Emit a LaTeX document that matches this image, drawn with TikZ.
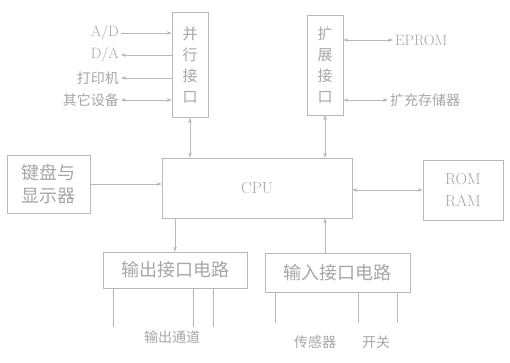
\documentclass[tikz,border=0pt]{standalone}
\usepackage{fontspec}
\newfontfamily\cjk{Noto Sans CJK SC}
\usetikzlibrary{arrows.meta, positioning}

\begin{document}
\begin{tikzpicture}[x=1pt, y=-1pt,
    blk/.style={rectangle, draw=black!28, line width=0.8pt, align=center, inner sep=0pt, text=black!35, font=\fontsize{18}{23}\selectfont\cjk},
    vblk/.style={blk, minimum width=36pt, font=\fontsize{15}{21}\selectfont\cjk},
    lbl/.style={text=black!35, inner sep=2pt, font=\fontsize{14}{16}\selectfont\cjk},
    arr/.style={-{Stealth[length=5pt]}, draw=black!28, line width=0.8pt},
    darr/.style={{Stealth[length=5pt]}-{Stealth[length=5pt]}, draw=black!28, line width=0.8pt},
    ln/.style={draw=black!28, line width=0.8pt}]
    \useasboundingbox (0,0) rectangle (510,362);

    \node[blk, minimum width=190pt, minimum height=60pt, font=\fontsize{16}{20}\selectfont\rmfamily] (cpu) at (257,188) {CPU};
    \node[vblk, minimum height=105pt] (io) at (190,65) {并\\行\\接\\口};
    \node[vblk, minimum height=100pt] (ext) at (325,65) {扩\\展\\接\\口};
    \node[blk, minimum width=83pt, minimum height=58pt] (key) at (48.5,184) {键盘与\\显示器};
    \node[blk, minimum width=80pt, minimum height=60pt, font=\fontsize{16}{22}\selectfont\rmfamily] (rom) at (463,190) {ROM\\RAM};
    \node[blk, minimum width=144pt, minimum height=36pt] (outc) at (175,270) {输出接口电路};
    \node[blk, minimum width=145pt, minimum height=39pt] (inc) at (337.5,272.5) {输入接口电路};

    % devices on the parallel port
    \node[lbl, anchor=east, font=\fontsize{15}{16}\selectfont\rmfamily] (ad) at (121,33) {A/D};
    \node[lbl, anchor=east, font=\fontsize{15}{16}\selectfont\rmfamily] (da) at (121,55) {D/A};
    \node[lbl, anchor=east] (prt) at (121,78) {打印机};
    \node[lbl, anchor=east] (oth) at (121,100) {其它设备};
    \draw[arr] (ad.east) -- (ad.east -| io.west);
    \draw[arr] (io.west |- da.east) -- (da.east);
    \draw[arr] (io.west |- prt.east) -- (prt.east);
    \draw[darr] (oth.east) -- (oth.east -| io.west);

    % memory on the expansion port
    \node[lbl, anchor=west, font=\fontsize{15}{16}\selectfont\rmfamily] (eprom) at (393,40) {EPROM};
    \node[lbl, anchor=west] (mem) at (388,100) {扩充存储器};
    \draw[darr] (eprom.west) -- (eprom.west -| ext.east);
    \draw[darr] (mem.west) -- (mem.west -| ext.east);

    % buses to the CPU
    \draw[darr] (io.south) -- (io.south |- cpu.north);
    \draw[darr] (ext.south) -- (ext.south |- cpu.north);
    \draw[arr] (key.east) -- (key.east -| cpu.west);
    \draw[darr] (cpu.east |- rom.west) -- (rom.west);
    \draw[arr] (cpu.south -| outc.north) -- (outc.north);
    \draw[arr] (inc.north -| ext.south) -- (ext.south |- cpu.south);

    % field side
    \foreach \x in {113,193,213}
      \draw[ln] (\x,0 |- outc.south) -- (\x,327);
    \foreach \x in {275,358,397}
      \draw[ln] (\x,0 |- inc.south) -- (\x,323);
    \node[lbl] (outl) at (172,337) {输出通道};
    \node[lbl] (sens) at (315,342) {传感器};
    \node[lbl] (sw) at (376,342) {开关};
\end{tikzpicture}
\end{document}
